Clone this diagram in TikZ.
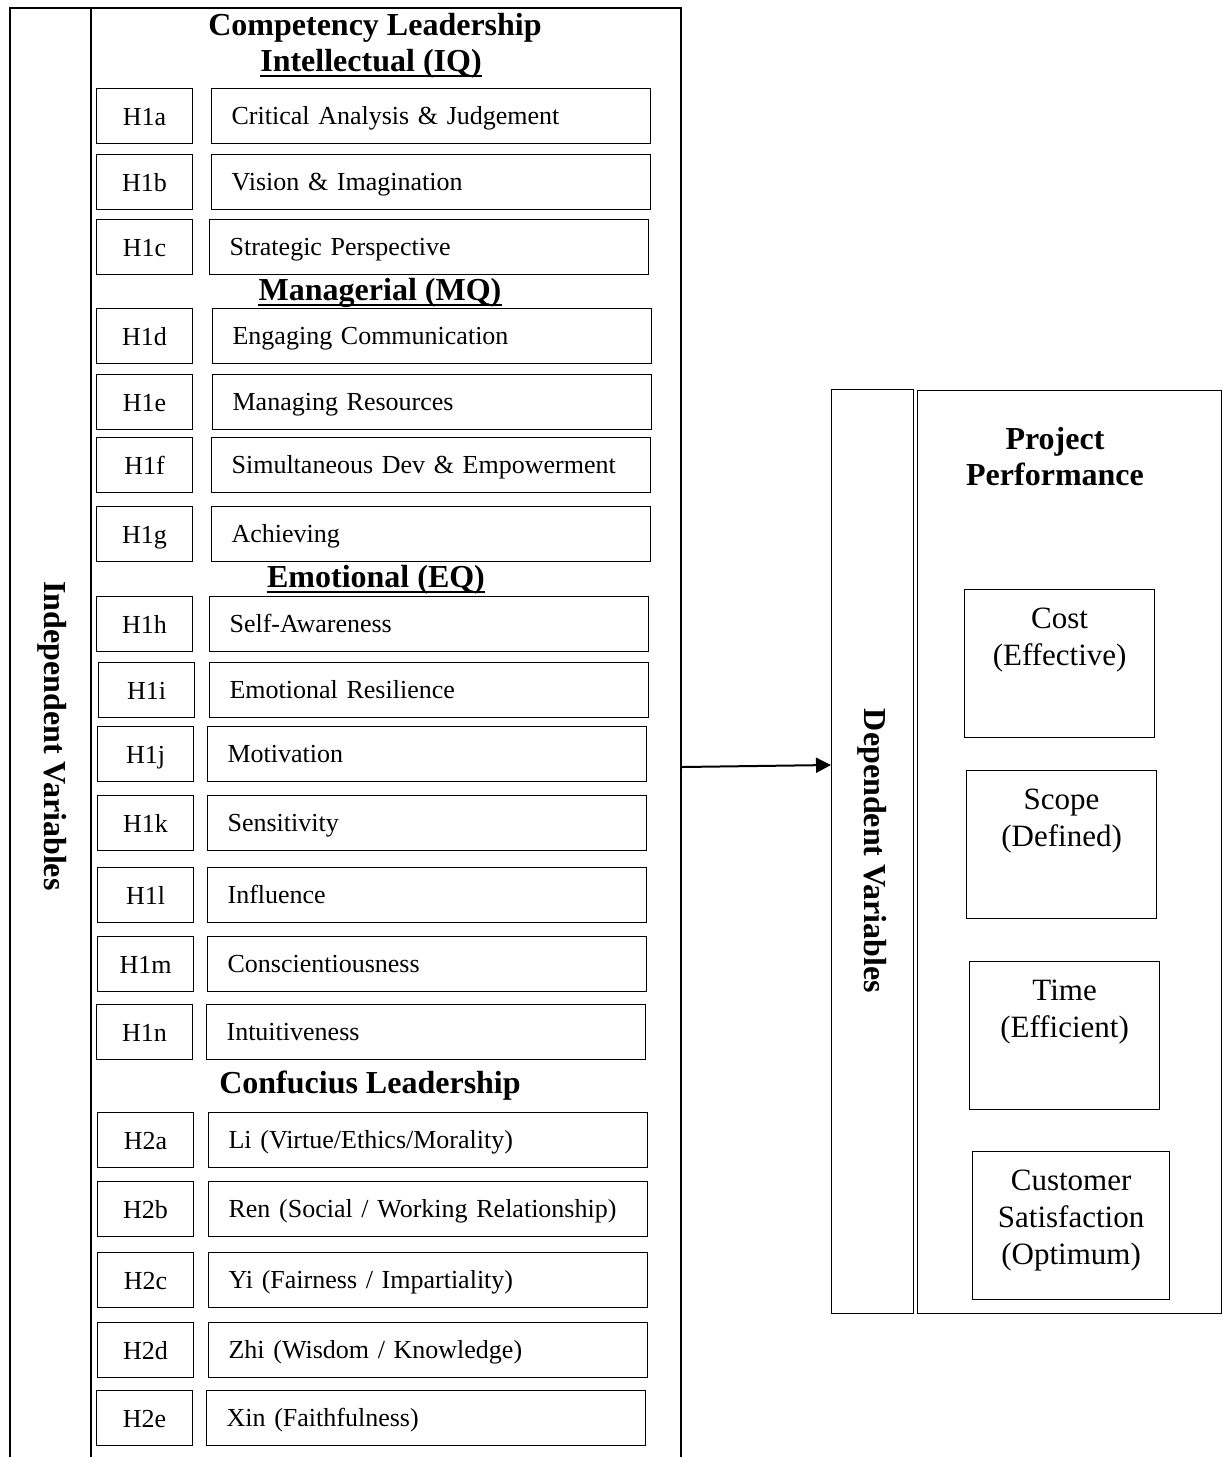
\documentclass[tikz,border=0pt]{standalone}
\usepackage{fontspec}
\setmainfont{Liberation Serif}
\usetikzlibrary{arrows.meta}

% hypothesis row: label box + description box
\newcommand\hyprow[6]{%
  \node[labbox, anchor=north west] (l#1) at (#3,#2) {#5};
  \node[descbox, anchor=north west] (d#1) at (#4,#2) {#6};
}

\begin{document}
\begin{tikzpicture}[x=1pt, y=-1pt, line width=1.2pt,
  labbox/.style={draw, minimum width=96pt, minimum height=55pt, inner sep=0pt,
    text height=21pt, text depth=3pt, font=\fontsize{26}{30}\selectfont},
  descbox/.style={draw, minimum height=55pt, text width=399pt, inner xsep=20pt,
    inner ysep=0pt, text height=20pt, text depth=4pt, align=left,
    font=\fontsize{26}{30}\selectfont},
  heading/.style={font=\fontsize{32}{36}\selectfont\bfseries, inner sep=0pt, align=center},
  ruled/.style={line width=2.4pt},
  outcome/.style={draw, minimum width=190pt, minimum height=148pt, inner sep=0pt},
  outtext/.style={font=\fontsize{31}{37}\selectfont, align=center, inner sep=0pt},
  panel/.style={draw, inner sep=0pt}
]
\useasboundingbox (0,0) rectangle (1223,1457);

% frame of the independent-variable panel (open at the bottom)
\draw (10,1458) -- (10,8) -- (681,8) -- (681,1458);
\draw (91,8) -- (91,1458);
\node[heading, rotate=-90] (iv) at (52,736) {Independent Variables};

% headings
\node[heading] (comp) at (375,28) {Competency Leadership};
\node[heading] (iq) at (371,64) {Intellectual (IQ)};
\draw[ruled] ([yshift=-4.5pt]iq.base west) -- ([yshift=-4.5pt]iq.base east);
\node[heading] (mq) at (380,293) {Managerial (MQ)};
\draw[ruled] ([yshift=-4.5pt]mq.base west) -- ([yshift=-4.5pt]mq.base east);
\node[heading] (eq) at (376,580) {Emotional (EQ)};
\draw[ruled] ([yshift=-4.5pt]eq.base west) -- ([yshift=-4.5pt]eq.base east);
\node[heading] (conf) at (370,1086) {Confucius Leadership};

% hypothesis rows
\hyprow{1a}{88}{96}{211}{H1a}{Critical Analysis \& Judgement}
\hyprow{1b}{154}{96}{211}{H1b}{Vision \& Imagination}
\hyprow{1c}{219}{96}{209}{H1c}{Strategic Perspective}
\hyprow{1d}{308}{96}{212}{H1d}{Engaging Communication}
\hyprow{1e}{374}{96}{212}{H1e}{Managing Resources}
\hyprow{1f}{437}{96}{211}{H1f}{Simultaneous Dev \& Empowerment}
\hyprow{1g}{506}{96}{211}{H1g}{Achieving}
\hyprow{1h}{596}{96}{209}{H1h}{Self-Awareness}
\hyprow{1i}{662}{98}{209}{H1i}{Emotional Resilience}
\hyprow{1j}{726}{97}{207}{H1j}{Motivation}
\hyprow{1k}{795}{97}{207}{H1k}{Sensitivity}
\hyprow{1l}{867}{97}{207}{H1l}{Influence}
\hyprow{1m}{936}{97}{207}{H1m}{Conscientiousness}
\hyprow{1n}{1004}{96}{206}{H1n}{Intuitiveness}
\hyprow{2a}{1112}{97}{208}{H2a}{Li (Virtue/Ethics/Morality)}
\hyprow{2b}{1181}{97}{208}{H2b}{Ren (Social / Working Relationship)}
\hyprow{2c}{1252}{97}{208}{H2c}{Yi (Fairness / Impartiality)}
\hyprow{2d}{1322}{97}{208}{H2d}{Zhi (Wisdom / Knowledge)}
\hyprow{2e}{1390}{96}{206}{H2e}{Xin (Faithfulness)}

% dependent-variable panel
\node[panel, minimum width=82pt, minimum height=924pt, anchor=north west] (dv) at (831,389) {};
\node[heading, rotate=-90] (dvlab) at (872,851) {Dependent Variables};
\node[panel, minimum width=304pt, minimum height=923pt, anchor=north west] (pp) at (917,390) {};
\node[heading] (pptitle) at (1055,457) {Project\\Performance};

% performance outcomes
\node[outcome, anchor=north west] (cost) at (964,589) {};
\node[outtext, anchor=north] at ([yshift=-18pt]cost.north) {Cost\\(Effective)};
\node[outcome, anchor=north west] (scope) at (966,770) {};
\node[outtext, anchor=north] at ([yshift=-18pt]scope.north) {Scope\\(Defined)};
\node[outcome, anchor=north west] (time) at (969,961) {};
\node[outtext, anchor=north] at ([yshift=-18pt]time.north) {Time\\(Efficient)};
\node[outcome, minimum width=197pt, anchor=north west] (cust) at (972,1151) {};
\node[outtext, anchor=north] at ([yshift=-18pt]cust.north) {Customer\\Satisfaction\\(Optimum)};

% link from independent to dependent variables
\coordinate (ivout) at (682,767);
\coordinate (dvin) at (831,765);
\draw[line width=2pt, -{Triangle[length=15pt, width=15pt]}] (ivout) -- (dvin);
\end{tikzpicture}
\end{document}
